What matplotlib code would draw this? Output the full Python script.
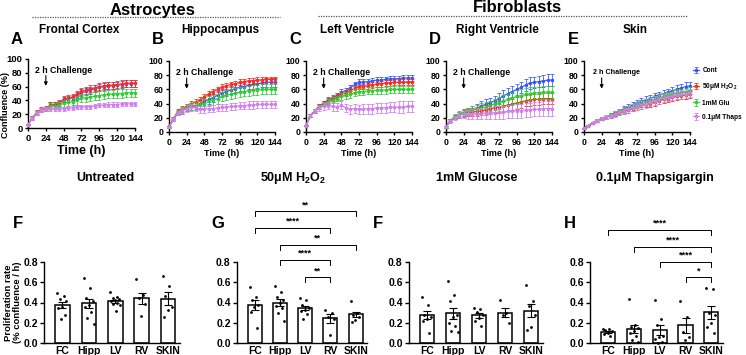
import numpy as np
import matplotlib
matplotlib.use("Agg")
import matplotlib.pyplot as plt
from matplotlib.lines import Line2D

plt.rcParams.update({
    'font.family': ['Liberation Sans', 'DejaVu Sans'],
    'font.weight': 'bold',
    'axes.labelweight': 'bold',
    'mathtext.default': 'regular',
    'axes.linewidth': 1.0,
})

W, H = 746, 355

# ---------------- confluence time courses (every 6 h) ----------------
hours = list(range(0, 145, 6))
series_names = ["Cont", "50μM H$_2$O$_2$", "1mM Glu", "0.1μM Thaps"]
series_colors = ["#3355ff", "#ff2a1a", "#2fcc2f", "#d27cf2"]

fc_cont = [5, 14, 22, 26, 27, 33, 33, 35, 41, 42, 44, 47, 51, 53, 55, 57, 59, 60, 61, 61, 62, 63, 64, 64, 65]
fc_h2o2 = [5, 15, 23, 27, 28, 33, 34, 36, 42, 43, 45, 49, 53, 55, 57, 58, 60, 61, 62, 62, 63, 64, 65, 65, 65]
fc_glu = [5, 14, 22, 26, 27, 32, 32, 33, 36, 37, 38, 40, 43, 44, 45, 46, 47, 48, 49, 49, 50, 50, 51, 51, 51]
fc_thaps = [5, 14, 22, 26, 27, 28, 28, 27, 28, 29, 29, 30, 31, 31, 31, 32, 33, 33, 34, 34, 34, 35, 35, 35, 35]
fc_cont_err = [1, 2, 3, 3, 3, 4, 4, 4, 4, 4, 4, 5, 5, 5, 5, 5, 5, 5, 5, 5, 5, 5, 5, 5, 5]
fc_h2o2_err = [1, 2, 3, 3, 4, 4, 4, 4, 5, 5, 5, 5, 5, 5, 5, 5, 5, 5, 5, 5, 5, 5, 5, 5, 5]
fc_glu_err = [1, 2, 3, 3, 3, 4, 4, 5, 5, 5, 5, 6, 6, 6, 6, 6, 6, 6, 6, 6, 6, 6, 6, 6, 6]
fc_thaps_err = [1, 2, 3, 3, 3, 3, 3, 3, 3, 3, 3, 3, 3, 3, 3, 3, 3, 3, 3, 3, 3, 3, 3, 3, 3]

hp_cont = [7, 17, 27, 30, 33, 36, 37, 39, 43, 46, 48, 52, 55, 57, 59, 61, 63, 64, 66, 67, 68, 69, 70, 70, 70]
hp_h2o2 = [8, 19, 29, 32, 36, 40, 42, 45, 49, 54, 57, 60, 63, 65, 67, 68, 70, 71, 72, 72, 73, 73, 74, 74, 74]
hp_glu = [7, 18, 28, 31, 34, 36, 37, 38, 40, 43, 45, 47, 50, 52, 53, 55, 56, 57, 58, 59, 59, 60, 60, 60, 60]
hp_thaps = [7, 18, 27, 30, 33, 35, 34, 32, 32, 33, 33, 34, 35, 35, 36, 36, 37, 37, 38, 38, 39, 39, 39, 39, 39]
hp_cont_err = [1, 2, 3, 4, 4, 5, 5, 5, 6, 6, 6, 6, 6, 6, 6, 6, 6, 6, 6, 6, 6, 6, 6, 6, 6]
hp_h2o2_err = [1, 2, 3, 4, 4, 4, 4, 4, 4, 4, 4, 4, 4, 4, 4, 4, 4, 4, 4, 4, 4, 4, 4, 4, 4]
hp_glu_err = [1, 2, 3, 4, 5, 5, 6, 6, 6, 7, 7, 7, 7, 7, 7, 7, 7, 7, 7, 7, 7, 7, 7, 7, 7]
hp_thaps_err = [1, 2, 3, 4, 5, 5, 5, 5, 5, 5, 5, 5, 5, 5, 5, 5, 5, 5, 5, 5, 5, 5, 5, 5, 5]

lv_cont = [9, 23, 30, 36, 41, 45, 48, 51, 56, 58, 62, 67, 70, 70, 71, 72, 73, 73, 74, 75, 75, 75, 76, 76, 76]
lv_h2o2 = [9, 23, 30, 36, 40, 44, 47, 50, 54, 55, 58, 61, 64, 64, 65, 66, 67, 68, 69, 69, 70, 70, 70, 70, 70]
lv_glu = [9, 23, 30, 35, 39, 42, 45, 47, 50, 52, 53, 55, 57, 57, 58, 58, 59, 59, 59, 60, 60, 60, 60, 60, 60]
lv_thaps = [9, 23, 30, 34, 36, 37, 36, 35, 38, 34, 32, 33, 32, 32, 33, 33, 34, 34, 34, 35, 35, 35, 35, 36, 36]
lv_cont_err = [1, 2, 3, 3, 3, 4, 4, 4, 4, 4, 4, 4, 4, 4, 4, 4, 4, 4, 4, 4, 4, 4, 4, 4, 4]
lv_h2o2_err = [1, 2, 3, 3, 3, 4, 4, 4, 4, 4, 4, 4, 4, 4, 4, 4, 4, 4, 4, 4, 4, 4, 4, 4, 4]
lv_glu_err = [1, 2, 3, 3, 3, 4, 4, 4, 5, 5, 5, 5, 5, 5, 5, 5, 5, 5, 5, 5, 5, 5, 5, 5, 5]
lv_thaps_err = [1, 2, 3, 4, 5, 5, 6, 6, 6, 6, 6, 6, 6, 7, 7, 7, 7, 7, 7, 7, 7, 8, 8, 8, 8]

rv_cont = [7, 16, 21, 24, 27, 29, 31, 33, 37, 39, 41, 44, 47, 51, 54, 57, 60, 63, 66, 69, 70, 71, 72, 73, 73]
rv_h2o2 = [7, 16, 21, 24, 26, 27, 28, 29, 30, 31, 32, 34, 35, 36, 38, 39, 41, 42, 44, 45, 46, 46, 47, 47, 47]
rv_glu = [7, 16, 22, 25, 27, 29, 31, 32, 34, 35, 37, 39, 41, 44, 46, 48, 50, 51, 53, 54, 55, 55, 56, 56, 56]
rv_thaps = [7, 15, 20, 24, 25, 25, 25, 25, 26, 26, 27, 27, 28, 28, 29, 29, 30, 30, 31, 31, 32, 32, 33, 33, 33]
rv_cont_err = [1, 2, 3, 4, 5, 5, 6, 6, 7, 7, 7, 7, 8, 8, 8, 8, 8, 8, 8, 8, 8, 8, 8, 8, 8]
rv_h2o2_err = [1, 2, 3, 4, 5, 5, 6, 6, 6, 7, 7, 7, 8, 8, 8, 8, 8, 8, 8, 8, 8, 8, 8, 8, 8]
rv_glu_err = [1, 2, 3, 4, 5, 5, 6, 6, 7, 7, 7, 8, 8, 8, 8, 8, 9, 9, 9, 9, 9, 9, 9, 9, 9]
rv_thaps_err = [1, 2, 3, 4, 5, 6, 7, 7, 8, 8, 8, 9, 9, 9, 9, 9, 10, 10, 10, 10, 10, 10, 10, 10, 10]

sk_cont = [5, 9, 13, 16, 19, 21, 24, 27, 30, 32, 35, 38, 41, 43, 45, 47, 50, 52, 54, 56, 58, 60, 62, 64, 65]
sk_h2o2 = [5, 9, 13, 16, 19, 21, 23, 25, 27, 29, 31, 33, 35, 37, 39, 40, 42, 44, 46, 47, 49, 50, 51, 52, 53]
sk_glu = [5, 9, 13, 16, 19, 21, 24, 26, 29, 31, 33, 36, 38, 40, 42, 44, 46, 48, 50, 52, 54, 55, 56, 57, 58]
sk_thaps = [5, 9, 13, 16, 19, 21, 23, 25, 28, 30, 32, 34, 36, 38, 40, 42, 44, 46, 48, 49, 51, 52, 53, 54, 55]
sk_cont_err = [1, 1, 1, 2, 2, 2, 3, 3, 3, 4, 4, 4, 4, 5, 5, 5, 5, 5, 5, 5, 6, 6, 6, 6, 6]
sk_h2o2_err = [1, 1, 1, 2, 2, 2, 3, 3, 3, 3, 4, 4, 4, 4, 4, 5, 5, 5, 5, 5, 5, 5, 5, 5, 5]
sk_glu_err = [1, 1, 1, 2, 2, 2, 3, 3, 3, 4, 4, 4, 4, 5, 5, 5, 5, 5, 5, 5, 5, 5, 5, 5, 5]
sk_thaps_err = [1, 1, 1, 2, 2, 3, 3, 4, 4, 4, 5, 5, 5, 5, 6, 6, 6, 6, 6, 6, 6, 6, 6, 6, 6]

line_panels = [
    ("A", "Frontal Cortex", (28, 135, 59, 128),
     [fc_cont, fc_h2o2, fc_glu, fc_thaps], [fc_cont_err, fc_h2o2_err, fc_glu_err, fc_thaps_err]),
    ("B", "Hippocampus", (169, 275, 61, 132),
     [hp_cont, hp_h2o2, hp_glu, hp_thaps], [hp_cont_err, hp_h2o2_err, hp_glu_err, hp_thaps_err]),
    ("C", "Left Ventricle", (306, 412, 61, 132),
     [lv_cont, lv_h2o2, lv_glu, lv_thaps], [lv_cont_err, lv_h2o2_err, lv_glu_err, lv_thaps_err]),
    ("D", "Right Ventricle", (446, 552, 61, 132),
     [rv_cont, rv_h2o2, rv_glu, rv_thaps], [rv_cont_err, rv_h2o2_err, rv_glu_err, rv_thaps_err]),
    ("E", "Skin", (584, 690, 61, 132),
     [sk_cont, sk_h2o2, sk_glu, sk_thaps], [sk_cont_err, sk_h2o2_err, sk_glu_err, sk_thaps_err]),
]

# ---------------- proliferation rates ----------------
regions = ["FC", "Hipp", "LV", "RV", "SKIN"]

untreated_pts = [
    [0.49, 0.46, 0.43, 0.41, 0.36, 0.35, 0.28, 0.24],
    [0.64, 0.54, 0.44, 0.41, 0.38, 0.36, 0.31, 0.25, 0.19],
    [0.50, 0.45, 0.44, 0.43, 0.42, 0.41, 0.40, 0.39, 0.38, 0.32],
    [0.63, 0.47, 0.44, 0.39, 0.27],
    [0.66, 0.56, 0.46, 0.36, 0.33, 0.26],
]
h2o2_pts = [
    [0.55, 0.45, 0.42, 0.38, 0.36, 0.31, 0.15],
    [0.56, 0.50, 0.45, 0.42, 0.40, 0.37, 0.35, 0.30, 0.22],
    [0.44, 0.42, 0.38, 0.35, 0.33, 0.32, 0.29, 0.24],
    [0.33, 0.30, 0.26, 0.24, 0.08],
    [0.41, 0.30, 0.28, 0.26, 0.23, 0.21],
]
glucose_pts = [
    [0.45, 0.38, 0.28, 0.26, 0.24, 0.22, 0.10],
    [0.61, 0.47, 0.41, 0.28, 0.26, 0.20, 0.17, 0.12, 0.11],
    [0.35, 0.34, 0.31, 0.28, 0.25, 0.22, 0.17],
    [0.42, 0.30, 0.28, 0.20],
    [0.57, 0.41, 0.37, 0.28, 0.16, 0.13],
]
thaps_pts = [
    [0.14, 0.14, 0.13, 0.12, 0.10, 0.09, 0.07],
    [0.43, 0.18, 0.16, 0.15, 0.12, 0.10, 0.07, 0.03, 0.01],
    [0.42, 0.24, 0.18, 0.07, 0.06, 0.04, 0.01, 0.00],
    [0.41, 0.26, 0.11, 0.06, 0.03],
    [0.54, 0.53, 0.30, 0.28, 0.20, 0.16, 0.10],
]

# (group i, group j, bracket height, stars)
h2o2_sig = [(0, 4, 1.30, "**"), (0, 3, 1.14, "****"), (1, 4, 0.97, "**"),
            (1, 3, 0.82, "****"), (2, 3, 0.65, "**")]
thaps_sig = [(0, 4, 1.12, "****"), (1, 4, 0.95, "****"), (2, 4, 0.80, "****"),
             (3, 4, 0.65, "*")]

bar_panels = [
    ("F", "Untreated", (44, 180), untreated_pts, [], (18, 223), 105),
    ("G", "50μM H$_2$O$_2$", (237, 367), h2o2_pts, h2o2_sig, (218, 223), 293),
    ("F", "1mM Glucose", (409, 543), glucose_pts, [], (378, 223), 477),
    ("H", "0.1μM Thapsigargin", (590, 723), thaps_pts, thaps_sig, (570, 223), 655),
]

fig = plt.figure(figsize=(W / 100, H / 100), dpi=100)


def fx(x):
    return x / W


def fy(y):
    return 1 - y / H


# headers
fig.text(fx(153), fy(10), "Astrocytes", ha="center", va="center", fontsize=12, fontweight="bold")
fig.text(fx(517), fy(7), "Fibroblasts", ha="center", va="center", fontsize=12, fontweight="bold")
fig.add_artist(Line2D([fx(32), fx(280)], [fy(17), fy(17)], color="#555555", lw=0.9, ls=(0, (1, 1))))
fig.add_artist(Line2D([fx(318), fx(687)], [fy(16), fy(16)], color="#555555", lw=0.9, ls=(0, (1, 1))))

x = np.array(hours)
for k, (letter, title, (x0, x1, ytop, ybot), vals, errs) in enumerate(line_panels):
    ax = fig.add_axes([fx(x0), fy(ybot), (x1 - x0) / W, (ybot - ytop) / H])
    big = (k == 0)
    for s in [3, 2, 1, 0]:
        ax.errorbar(x, vals[s], yerr=errs[s], color=series_colors[s], lw=0.9,
                    elinewidth=0.6, capsize=1.2, capthick=0.6, marker="s", ms=1.3,
                    ecolor=series_colors[s], alpha=0.95, clip_on=False, zorder=3 + s,
                    label=series_names[s])
    ax.set_xlim(0, 144)
    ax.set_ylim(0, 100)
    ax.set_xticks(range(0, 145, 24))
    ax.set_yticks(range(0, 101, 20))
    for sp in ["top", "right"]:
        ax.spines[sp].set_visible(False)
    ax.tick_params(length=2.5, width=1, pad=1.5, labelsize=6.8 if big else 6.3)
    for t in ax.get_xticklabels() + ax.get_yticklabels():
        t.set_fontweight("bold")
    ax.set_xlabel("Time (h)", fontsize=9 if big else 6.5, fontweight="bold", labelpad=2)
    if big:
        ax.set_ylabel("Confluence (%)", fontsize=6.5, fontweight="bold")
        ax.yaxis.set_label_coords(-0.165, 0.33)
    ax.annotate("", xy=(24, 57), xytext=(24, 80),
                arrowprops=dict(arrowstyle="-|>", color="black", lw=0.8, mutation_scale=5))
    ax.text(9 if k < 4 else 12, 84, "2 h Challenge", ha="left", va="center",
            fontsize=6.3 if k < 4 else 5.2, fontweight="bold")
    fig.text(fx((x0 + x1) / 2 - 2), fy(30), title, ha="center", va="center",
             fontsize=8.5, fontweight="bold")
    fig.text(fx(x0 - 11), fy(39), letter, ha="center", va="center", fontsize=12, fontweight="bold")
    if letter == "E":
        handles, labels = ax.get_legend_handles_labels()
        ax.legend(handles[::-1], labels[::-1], loc="upper left", bbox_to_anchor=(1.0, 0.95),
                  frameon=False, fontsize=4.7, handlelength=1.0, handletextpad=0.5,
                  labelspacing=1.1, borderaxespad=0.2, borderpad=0.2)
        for t in ax.get_legend().get_texts():
            t.set_fontweight("bold")

pos = np.arange(len(regions))
for k, (letter, title, (x0, x1), pts, sig, lpos, tx) in enumerate(bar_panels):
    ax = fig.add_axes([fx(x0), fy(343), (x1 - x0) / W, 81 / H])
    means = [np.mean(p) for p in pts]
    sems = [np.std(p, ddof=1) / np.sqrt(len(p)) for p in pts]
    ax.bar(pos, means, width=0.55, color="white", edgecolor="black", lw=1.1, zorder=2)
    ax.errorbar(pos, means, yerr=sems, fmt="none", ecolor="black", elinewidth=0.8,
                capsize=3, capthick=0.8, zorder=4)
    for i, p in enumerate(pts):
        n = len(p)
        offs = ((np.arange(n) * 0.618) % 1.0 - 0.5) * 0.4
        ax.scatter(pos[i] + offs, p, s=4, color="black",
                   zorder=5, clip_on=False, linewidths=0)
    ax.set_xlim(-0.7, 4.45)
    ax.set_ylim(0, 0.8)
    ax.set_yticks([0.0, 0.2, 0.4, 0.6, 0.8])
    ax.set_yticklabels(["0.0", "0.2", "0.4", "0.6", "0.8"])
    ax.set_xticks(pos)
    ax.set_xticklabels(regions)
    for sp in ["top", "right"]:
        ax.spines[sp].set_visible(False)
    ax.tick_params(axis="x", length=0, pad=2, labelsize=7.5)
    ax.tick_params(axis="y", length=3, width=1, pad=1.5, labelsize=7.5)
    for t in ax.get_xticklabels() + ax.get_yticklabels():
        t.set_fontweight("bold")
    if k == 0:
        ax.set_ylabel("Proliferation rate\n(% confluence / h)", fontsize=6.8,
                      fontweight="bold", linespacing=0.95)
        ax.yaxis.set_label_coords(-0.165, 0.5)
    for (i, j, yb, lab) in sig:
        ax.plot([pos[i], pos[i], pos[j], pos[j]], [yb - 0.05, yb, yb, yb - 0.05],
                color="black", lw=0.7, clip_on=False)
        ax.text((pos[i] + pos[j]) / 2, yb + 0.02, lab, ha="center", va="bottom",
                fontsize=6.5, fontweight="bold", clip_on=False)
    fig.text(fx(tx), fy(178), title, ha="center", va="center", fontsize=9, fontweight="bold")
    fig.text(fx(lpos[0]), fy(lpos[1]), letter, ha="center", va="center",
             fontsize=12, fontweight="bold")

fig.savefig("out.png", dpi=100)
